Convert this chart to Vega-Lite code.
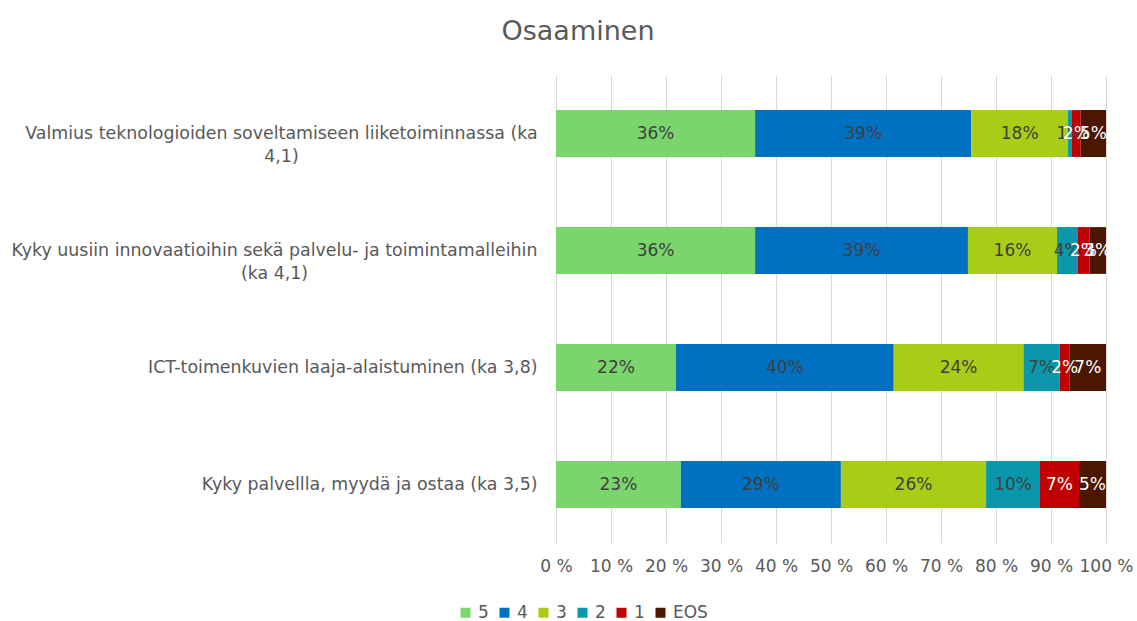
{
  "$schema": "https://vega.github.io/schema/vega-lite/v6.json",
  "width": 550,
  "height": 468,
  "autosize": {"type": "none"},
  "padding": {"left": 556, "top": 75, "right": 31, "bottom": 78},
  "background": "white",
  "config": {"view": {"stroke": null}},
  "title": {"text": "Osaaminen", "fontSize": 27, "font": "DejaVu Sans", "fontWeight": "normal", "color": "#595959", "anchor": "middle", "dx": -253, "offset": 29},
  "data": {"values": [
    {"q": "Valmius teknologioiden soveltamiseen liiketoiminnassa (ka 4,1)", "cat": "5", "o": 1, "v": 0.362},
    {"q": "Valmius teknologioiden soveltamiseen liiketoiminnassa (ka 4,1)", "cat": "4", "o": 2, "v": 0.393},
    {"q": "Valmius teknologioiden soveltamiseen liiketoiminnassa (ka 4,1)", "cat": "3", "o": 3, "v": 0.176},
    {"q": "Valmius teknologioiden soveltamiseen liiketoiminnassa (ka 4,1)", "cat": "2", "o": 4, "v": 0.007},
    {"q": "Valmius teknologioiden soveltamiseen liiketoiminnassa (ka 4,1)", "cat": "1", "o": 5, "v": 0.016},
    {"q": "Valmius teknologioiden soveltamiseen liiketoiminnassa (ka 4,1)", "cat": "EOS", "o": 6, "v": 0.046},
    {"q": "Kyky uusiin innovaatioihin sekä palvelu- ja toimintamalleihin (ka 4,1)", "cat": "5", "o": 1, "v": 0.362},
    {"q": "Kyky uusiin innovaatioihin sekä palvelu- ja toimintamalleihin (ka 4,1)", "cat": "4", "o": 2, "v": 0.387},
    {"q": "Kyky uusiin innovaatioihin sekä palvelu- ja toimintamalleihin (ka 4,1)", "cat": "3", "o": 3, "v": 0.162},
    {"q": "Kyky uusiin innovaatioihin sekä palvelu- ja toimintamalleihin (ka 4,1)", "cat": "2", "o": 4, "v": 0.037},
    {"q": "Kyky uusiin innovaatioihin sekä palvelu- ja toimintamalleihin (ka 4,1)", "cat": "1", "o": 5, "v": 0.022},
    {"q": "Kyky uusiin innovaatioihin sekä palvelu- ja toimintamalleihin (ka 4,1)", "cat": "EOS", "o": 6, "v": 0.030},
    {"q": "ICT-toimenkuvien laaja-alaistuminen (ka 3,8)", "cat": "5", "o": 1, "v": 0.218},
    {"q": "ICT-toimenkuvien laaja-alaistuminen (ka 3,8)", "cat": "4", "o": 2, "v": 0.396},
    {"q": "ICT-toimenkuvien laaja-alaistuminen (ka 3,8)", "cat": "3", "o": 3, "v": 0.236},
    {"q": "ICT-toimenkuvien laaja-alaistuminen (ka 3,8)", "cat": "2", "o": 4, "v": 0.066},
    {"q": "ICT-toimenkuvien laaja-alaistuminen (ka 3,8)", "cat": "1", "o": 5, "v": 0.018},
    {"q": "ICT-toimenkuvien laaja-alaistuminen (ka 3,8)", "cat": "EOS", "o": 6, "v": 0.066},
    {"q": "Kyky palvellla, myydä ja ostaa (ka 3,5)", "cat": "5", "o": 1, "v": 0.227},
    {"q": "Kyky palvellla, myydä ja ostaa (ka 3,5)", "cat": "4", "o": 2, "v": 0.291},
    {"q": "Kyky palvellla, myydä ja ostaa (ka 3,5)", "cat": "3", "o": 3, "v": 0.264},
    {"q": "Kyky palvellla, myydä ja ostaa (ka 3,5)", "cat": "2", "o": 4, "v": 0.098},
    {"q": "Kyky palvellla, myydä ja ostaa (ka 3,5)", "cat": "1", "o": 5, "v": 0.071},
    {"q": "Kyky palvellla, myydä ja ostaa (ka 3,5)", "cat": "EOS", "o": 6, "v": 0.049}
  ]},
  "encoding": {
    "y": {
      "field": "q", "type": "nominal", "title": null,
      "sort": ["Valmius teknologioiden soveltamiseen liiketoiminnassa (ka 4,1)", "Kyky uusiin innovaatioihin sekä palvelu- ja toimintamalleihin (ka 4,1)", "ICT-toimenkuvien laaja-alaistuminen (ka 3,8)", "Kyky palvellla, myydä ja ostaa (ka 3,5)"],
      "scale": {"paddingInner": 0.6, "paddingOuter": 0.3},
      "axis": {
        "ticks": false, "domain": false, "grid": false,
        "labelFont": "DejaVu Sans", "labelFontSize": 17.4, "labelColor": "#595959",
        "labelLimit": 700, "labelLineHeight": 23,
        "labelAlign": {"condition": {"test": "indexof(datum.value,'Valmius')==0 || indexof(datum.value,'Kyky uusiin')==0", "value": "center"}, "value": "right"},
        "labelPadding": {"condition": [{"test": "indexof(datum.value,'Valmius')==0", "value": 275}, {"test": "indexof(datum.value,'Kyky uusiin')==0", "value": 282}], "value": 19},
        "labelExpr": "indexof(datum.value,'Valmius')==0 ? ['Valmius teknologioiden soveltamiseen liiketoiminnassa (ka','4,1)'] : indexof(datum.value,'Kyky uusiin')==0 ? ['Kyky uusiin innovaatioihin sekä palvelu- ja toimintamalleihin','(ka 4,1)'] : datum.value"
      }
    },
    "x": {
      "field": "v", "type": "quantitative", "stack": "zero", "title": null,
      "scale": {"domain": [0, 1], "nice": false},
      "axis": {
        "values": [0, 0.1, 0.2, 0.3, 0.4, 0.5, 0.6, 0.7, 0.8, 0.9, 1],
        "labelExpr": "round(datum.value*100) + ' %'",
        "labelOverlap": false, "labelFlush": false,
        "ticks": false, "domain": false, "grid": true, "gridColor": "#d9d9d9", "gridWidth": 1,
        "labelFont": "DejaVu Sans", "labelFontSize": 17, "labelColor": "#595959", "labelPadding": 15
      }
    },
    "order": {"field": "o", "type": "quantitative"}
  },
  "layer": [
    {
      "mark": {"type": "bar"},
      "encoding": {
        "color": {
          "field": "cat", "type": "nominal",
          "scale": {"domain": ["5", "4", "3", "2", "1", "EOS"], "range": ["#7ad66c", "#0070c0", "#a9cc17", "#0a97ab", "#c00000", "#4b1700"]},
          "legend": {
            "title": null, "orient": "none", "direction": "horizontal", "legendX": -99, "legendY": 529,
            "symbolType": "square", "symbolSize": 100, "symbolStrokeWidth": 0, "symbolOpacity": 1,
            "labelFont": "DejaVu Sans", "labelFontSize": 17, "labelColor": "#595959", "columnPadding": 7, "labelOffset": 4
          }
        }
      }
    },
    {
      "mark": {"type": "text", "font": "DejaVu Sans", "fontSize": 17, "baseline": "middle", "align": "center"},
      "encoding": {
        "x": {"field": "v", "type": "quantitative", "stack": "zero", "bandPosition": 0.5},
        "detail": {"field": "cat", "type": "nominal"},
        "text": {"field": "v", "type": "quantitative", "format": ".0%"},
        "color": {"condition": {"test": "datum.cat == '1' || datum.cat == 'EOS'", "value": "white"}, "value": "#404040"}
      }
    }
  ]
}
